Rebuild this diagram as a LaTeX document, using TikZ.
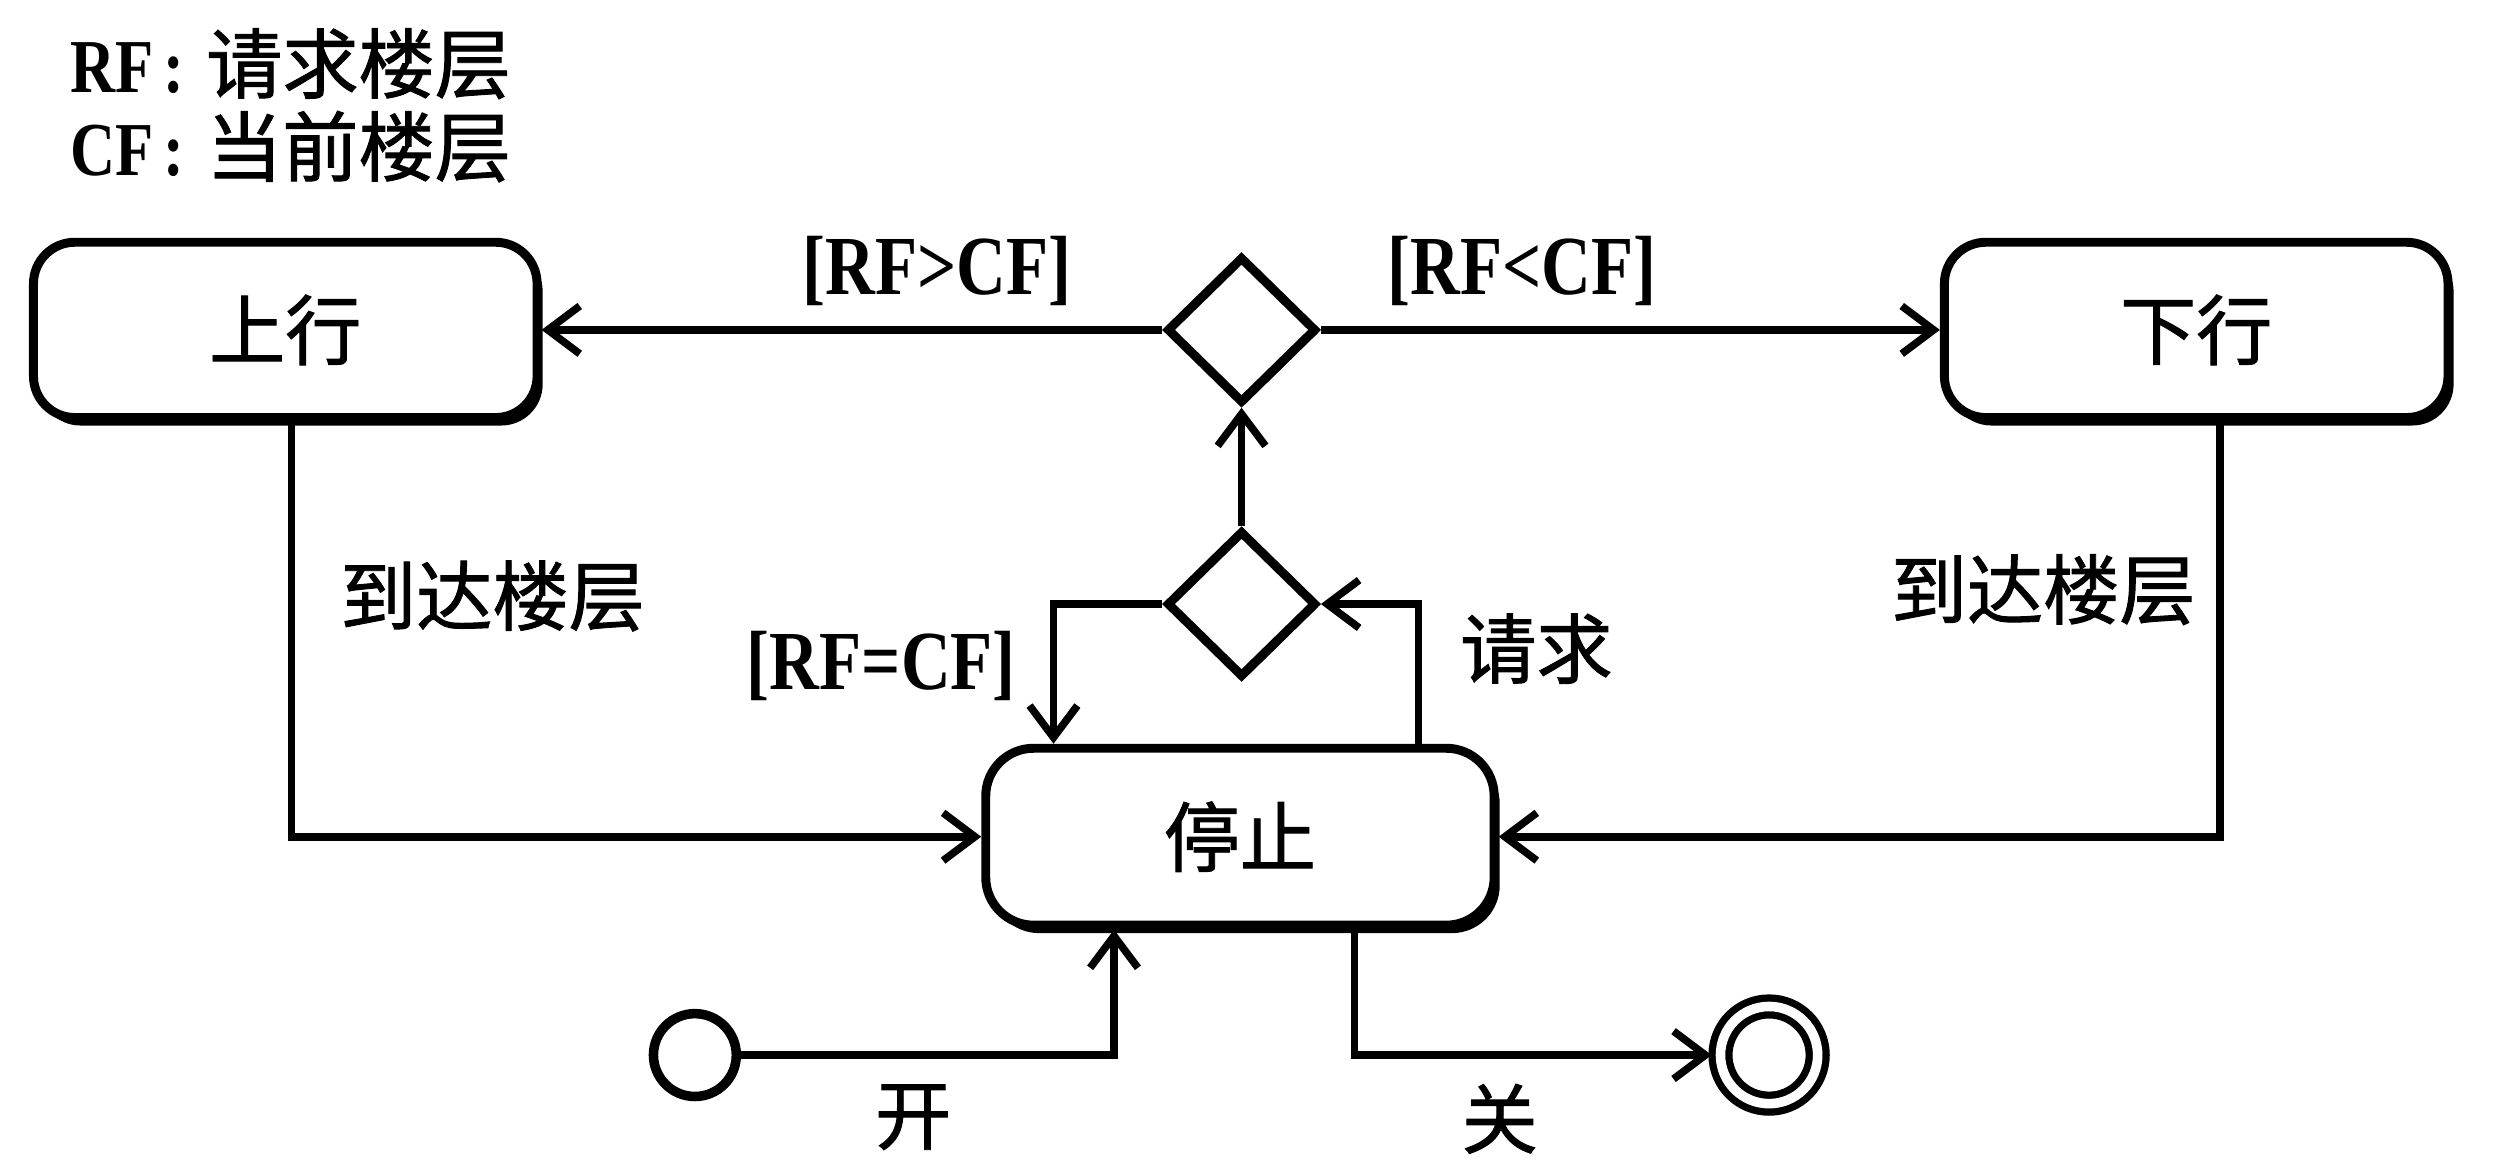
\documentclass[tikz,border=0pt]{standalone}
\usepackage{fontspec}
\setmainfont{Liberation Serif}
\newfontfamily\cjk[FakeBold=1.2]{Noto Sans CJK SC}
\newfontfamily\lat[FakeStretch=0.82]{Liberation Serif}
\usetikzlibrary{arrows.meta,shapes.geometric,shadows}

\begin{document}
\begin{tikzpicture}[every node/.style={font=\fontsize{13.6}{15}\selectfont\cjk},
	>={Straight Barb[length=2mm,width=3mm]}, line width=1.35pt,
	solidshadow/.style={drop shadow={fill=black, opacity=1, shadow xshift=0.035cm, shadow yshift=-0.05cm}},
	stbox/.style={draw, fill=white, rounded corners=0.26cm, line width=1.6pt, minimum width=3.16cm, minimum height=1.1cm, solidshadow},
	decide/.style={draw, fill=white, diamond, minimum width=0.94cm, minimum height=0.92cm, inner sep=0pt, line width=1.6pt,
		drop shadow={fill=black, opacity=1, shadow xshift=0.02cm, shadow yshift=-0.02cm}},
	guard/.style={font=\fontsize{15}{16}\selectfont\lat\bfseries}]
	\useasboundingbox (0,0) rectangle (15.68,7.36);
	% legend
	\node[anchor=west] (leg1) at (0.30,6.96) {{\lat\bfseries RF\hspace{0.06cm}:}\hspace{0.14cm}请求楼层};
	\node[anchor=west] (leg2) at (0.30,6.44) {{\lat\bfseries CF\hspace{0.06cm}:}\hspace{0.14cm}当前楼层};
	% states
	\node[stbox] (up) at (1.79,5.29) {上行};
	\node[stbox] (down) at (13.78,5.29) {下行};
	\node[stbox, minimum width=3.19cm, minimum height=1.11cm, rounded corners=0.3cm] (stop) at (7.78,2.11) {停止};
	\node[decide] (dtop) at (7.79,5.29) {};
	\node[decide] (dlow) at (7.79,3.57) {};
	\node[draw, circle, minimum size=0.52cm, line width=1.7pt] (init) at (4.36,0.74) {};
	\node[draw, circle, double, double distance=0.06cm, minimum size=0.61cm, line width=1.3pt, outer sep=0.055cm] (final) at (11.10,0.74) {};
	% transitions
	\draw[->] (dtop.west) -- (up.east);
	\draw[->] (dtop.east) -- (down.west);
	\draw[->] (dlow.north) -- (dtop.south);
	\draw[->] (dlow.west) -| ([xshift=-1.17cm]stop.north);
	\draw[->] ([xshift=1.12cm]stop.north) |- (dlow.east);
	\draw[->] ([xshift=0.04cm]up.south) |- (stop.west);
	\draw[->] ([xshift=0.15cm]down.south) |- (stop.east);
	\draw[->] (init.east) -| ([xshift=-0.79cm]stop.south);
	\draw[->] ([xshift=0.72cm]stop.south) |- (final.west);
	% labels
	\node[guard] (gup) at (5.88,5.66) {[RF>CF]};
	\node[guard] (gdown) at (9.55,5.66) {[RF<CF]};
	\node[guard] (geq) at (5.53,3.18) {[RF=CF]};
	\node (lreq) at (9.64,3.29) {请求};
	\node (larrl) at (3.09,3.62) {到达楼层};
	\node (larrr) at (12.82,3.66) {到达楼层};
	\node (lon) at (5.73,0.35) {开};
	\node (loff) at (9.41,0.34) {关};
\end{tikzpicture}
\end{document}
